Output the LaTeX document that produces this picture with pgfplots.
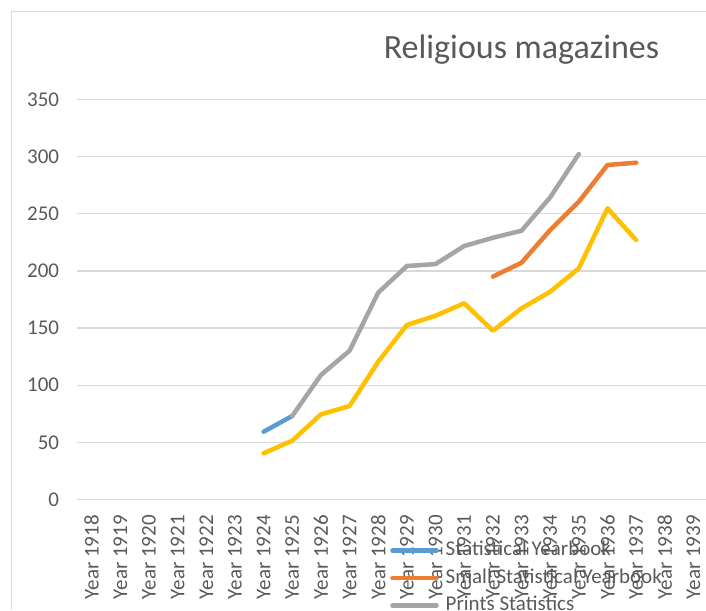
\documentclass[border=0pt]{standalone}
\usepackage{pgfplots}
\pgfplotsset{compat=1.18}
\usepackage{fontspec}
\setmainfont{Carlito}
\definecolor{sblue}{HTML}{5B9BD5}
\definecolor{sorange}{HTML}{ED7D31}
\definecolor{sgray}{HTML}{A5A5A5}
\definecolor{syellow}{HTML}{FFC000}
\definecolor{txt}{HTML}{595959}
\definecolor{gridgray}{HTML}{D9D9D9}
\begin{document}
\begin{tikzpicture}[x=1pt,y=1pt]
\draw[gridgray,line width=1.2pt] (11.7,0) -- (11.7,598.4) -- (706,598.4);
\node[anchor=base,text=txt,font=\fontsize{34}{40}\selectfont,inner sep=0pt] at (521.5,551) {Religious magazines};
\begin{axis}[
  at={(77.3pt,110.5pt)}, anchor=south west,
  scale only axis, width=630.5pt, height=400pt,
  xmin=-0.5, xmax=21.5, ymin=0, ymax=350,
  ytick={0,50,...,350},
  xtick={0,...,21},
  xticklabels={Year 1918,Year 1919,Year 1920,Year 1921,Year 1922,Year 1923,Year 1924,Year 1925,Year 1926,Year 1927,Year 1928,Year 1929,Year 1930,Year 1931,Year 1932,Year 1933,Year 1934,Year 1935,Year 1936,Year 1937,Year 1938,Year 1939},
  axis line style={draw=none},
  major tick length=0pt,
  ymajorgrids, xmajorgrids=false, grid style={gridgray,line width=1.3pt},
  /pgf/number format/assume math mode=true,
  tick label style={font=\fontsize{21}{25}\selectfont,text=txt},
  yticklabel style={inner sep=0pt,anchor=east,xshift=-18pt},
  xticklabel style={inner sep=0pt,yshift=-15.5pt,rotate=90,anchor=east},
  legend cell align=left,
  legend style={draw=none,fill=none,font=\fontsize{21}{25}\selectfont,text=txt,
    at={(0.496,-0.105)},anchor=north west,inner sep=0pt,
    nodes={inner sep=0pt,text height=14pt,text depth=4pt},
    row sep=9.5pt,column sep=7pt},
  legend image code/.code={\draw[#1,line width=4.5pt,line cap=round] (2pt,0pt) -- (46pt,0pt);},
  every axis plot/.append style={line width=4.5pt,line cap=round,line join=round},
]
\addplot[sblue] coordinates {(6,59.3) (7,73.1)};
\addlegendentry{Statistical Yearbook}
\addplot[sorange] coordinates {(14,195) (15,207.2) (16,235.8) (17,260.6) (18,292.7) (19,294.7)};
\addlegendentry{Small Statistical Yearbook}
\addplot[sgray] coordinates {(7,73.1) (8,108.9) (9,130.2) (10,181) (11,204.3) (12,206) (13,221.8) (14,229) (15,235.2) (16,264.4) (17,302.3)};
\addlegendentry{Prints Statistics}
\addplot[syellow,forget plot] coordinates {(6,40.4) (7,51.5) (8,74.5) (9,81.8) (10,120.6) (11,152.7) (12,160.8) (13,171.7) (14,147.7) (15,167.3) (16,181.8) (17,202.3) (18,254.8) (19,227)};
\end{axis}
\pgfresetboundingbox
\useasboundingbox (0,0) rectangle (706,610);
\end{tikzpicture}
\end{document}
